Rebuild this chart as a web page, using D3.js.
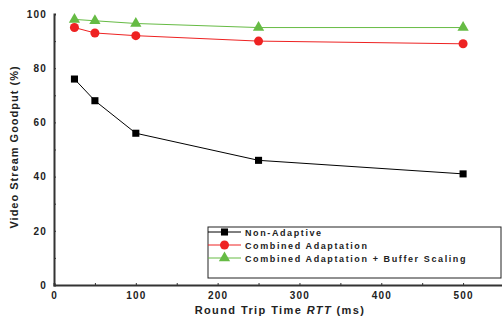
<!DOCTYPE html>
<html>
<head>
<meta charset="utf-8">
<script src="https://cdn.jsdelivr.net/npm/d3@7"></script>
<style>
  body { margin: 0; background: #fff; }
  text { font-family: "Liberation Sans", Arial, sans-serif; font-weight: bold; fill: #222; }
</style>
</head>
<body>
<svg id="graph" width="502" height="320"></svg>
<script>
const rtt = [25, 50, 100, 250, 500];
const nonAdaptive = [76, 68, 56, 46, 41];
const combined = [95, 93, 92, 90, 89];
const combinedBuffer = [98, 97.5, 96.5, 95, 95];
const seriesNames = ["Non-Adaptive", "Combined Adaptation", "Combined Adaptation + Buffer Scaling"];
const xTicks = [0, 100, 200, 300, 400, 500];
const yTicks = [0, 20, 40, 60, 80, 100];

const svg = d3.select("#graph");
const x = d3.scaleLinear().domain([0, 550]).range([54, 504]);
const y = d3.scaleLinear().domain([0, 100]).range([285, 14]);

const series = [
  { name: seriesNames[0], values: nonAdaptive, color: "#000000", line: "#000000", shape: d3.symbolSquare, size: 50 },
  { name: seriesNames[1], values: combined, color: "#ee2222", line: "#ee2222", shape: d3.symbolCircle, size: 64 },
  { name: seriesNames[2], values: combinedBuffer, color: "#66bb44", line: "#66bb44", shape: d3.symbolTriangle, size: 55 }
];

// axes
const xAxis = svg.append("g").attr("transform", "translate(0,285)")
  .call(d3.axisBottom(x).tickValues(d3.range(0, 551, 50)).tickSize(-2)
    .tickFormat(d => xTicks.includes(d) ? d : ""));
const yAxis = svg.append("g").attr("transform", "translate(54,0)")
  .call(d3.axisLeft(y).tickValues(d3.range(0, 101, 10)).tickSize(-2)
    .tickFormat(d => yTicks.includes(d) ? d : ""));

[xAxis, yAxis].forEach(a => {
  a.select(".domain").attr("stroke", "#333").attr("stroke-width", 2);
  a.selectAll(".tick line").attr("stroke", "#333");
  a.selectAll("text").attr("font-size", 10).attr("font-family", "Liberation Sans, Arial, sans-serif")
    .attr("font-weight", "bold").attr("fill", "#222").style("letter-spacing", "1.2px");
});
xAxis.selectAll("text").attr("dy", "1.1em");
yAxis.selectAll("text").attr("dx", "-0.4em");

// axis titles
svg.append("text")
  .attr("transform", "translate(18,147) rotate(-90)")
  .attr("text-anchor", "middle")
  .attr("font-size", 11)
  .style("letter-spacing", "1px")
  .text("Video Stream Goodput (%)");

const xt = svg.append("text")
  .attr("x", 280).attr("y", 314)
  .attr("text-anchor", "middle")
  .attr("font-size", 11)
  .style("letter-spacing", "1.4px");
xt.append("tspan").text("Round Trip Time ");
xt.append("tspan").attr("font-style", "italic").text("RTT");
xt.append("tspan").text(" (ms)");

// lines and markers
series.forEach(s => {
  const pts = rtt.map((r, i) => [r, s.values[i]]);
  svg.append("path")
    .datum(pts)
    .attr("fill", "none")
    .attr("stroke", s.line)
    .attr("stroke-width", 1)
    .attr("d", d3.line().x(d => x(d[0])).y(d => y(d[1])));
  svg.selectAll(null)
    .data(pts)
    .enter()
    .append("path")
    .attr("transform", d => `translate(${x(d[0])},${y(d[1])})`)
    .attr("d", d3.symbol().type(s.shape).size(s.size))
    .attr("fill", s.color);
});

// legend
const legend = svg.append("g");
legend.append("rect")
  .attr("x", 208).attr("y", 227).attr("width", 293).attr("height", 51)
  .attr("fill", "#fff").attr("stroke", "#222").attr("stroke-width", 1);
series.forEach((s, i) => {
  const ly = 232 + i * 13;
  legend.append("line")
    .attr("x1", 208).attr("x2", 241).attr("y1", ly).attr("y2", ly)
    .attr("stroke", s.line).attr("stroke-width", 1);
  legend.append("path")
    .attr("transform", `translate(224.5,${ly})`)
    .attr("d", d3.symbol().type(s.shape).size(s.size))
    .attr("fill", s.color);
  legend.append("text")
    .attr("x", 245).attr("y", ly + 3.5)
    .attr("font-size", 9)
    .style("letter-spacing", "1.6px")
    .text(s.name);
});
</script>
</body>
</html>
